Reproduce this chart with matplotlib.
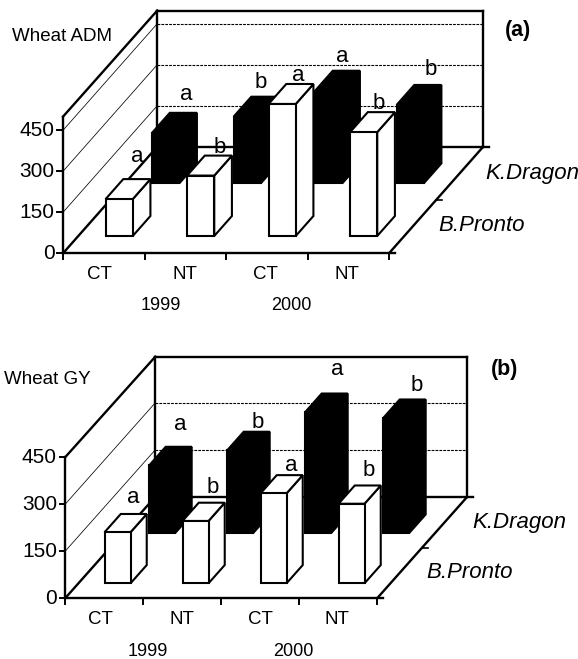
import matplotlib
matplotlib.use("Agg")
import matplotlib.pyplot as plt
from matplotlib.patches import Polygon

plt.rcParams['font.family'] = ['Liberation Sans', 'DejaVu Sans']

categories = ['CT', 'NT', 'CT', 'NT']
years = ['1999', '2000']
series_names = ['B.Pronto', 'K.Dragon']
y_ticks = [0, 150, 300, 450]

adm_pronto = [135, 221, 483, 380]
adm_dragon = [185, 244, 339, 287]
adm_pronto_letters = ['a', 'b', 'a', 'b']
adm_dragon_letters = ['a', 'b', 'a', 'b']

gy_pronto = [163, 199, 287, 254]
gy_dragon = [216, 264, 386, 367]
gy_pronto_letters = ['a', 'b', 'a', 'b']
gy_dragon_letters = ['a', 'b', 'a', 'b']

W, H = 578, 659
fig = plt.figure(figsize=(W / 100, H / 100), dpi=100)
fig.patch.set_facecolor('white')

THICK = 1.7
THIN = 0.55
BAR_LW = 1.5


def panel(px_top, px_bottom, x0, wc, y0, vs, dx, dy, ymax, ymaxfront, grid, side,
          pronto, dragon, p_let, d_let, p_off, d_off,
          d_front, d_depth, title, tag, tpos):
    ax = fig.add_axes([0, 1 - px_bottom / H, 1, (px_bottom - px_top) / H])
    ax.set_xlim(-x0 / wc, (W - x0) / wc)
    ax.set_ylim((y0 - px_bottom) / vs, (y0 - px_top) / vs)
    ax.axis('off')

    def P(c, d, v):
        return (c + d * dx, v + d * dy)

    def line(a, b, lw=THICK, ls='-', z=2):
        ax.plot([a[0], b[0]], [a[1], b[1]], color='black', lw=lw, ls=ls, zorder=z,
                solid_capstyle='projecting', dash_capstyle='butt')

    n = len(categories)
    # walls
    for v in grid:
        line(P(0, 1, v), P(n, 1, v), lw=0.8, ls=(0, (2.5, 1)), z=1)
    for v in side:
        line(P(0, 0, v), P(0, 1, v), lw=THIN, z=1)
    line(P(0, 0, 0), P(0, 0, ymaxfront))
    line(P(0, 0, ymaxfront), P(0, 1, ymax))
    line(P(0, 1, 0), P(0, 1, ymax))
    line(P(0, 1, ymax), P(n, 1, ymax))
    line(P(n, 1, 0), P(n, 1, ymax))
    # floor
    line(P(0, 0, 0), P(0, 1, 0))
    line(P(0, 1, 0), P(n + 0.07, 1, 0))
    line(P(n, 0, 0), P(n, 1, 0))
    line(P(0, 0, 0), P(n + 0.07, 0, 0))
    mid = P(n, 0.5, 0)
    line(mid, (mid[0] + 0.07, mid[1]), lw=1.2)
    # ticks
    for i in range(n + 1):
        line((i, 0), (i, -5.5 / vs), lw=1.4)
    for v in y_ticks:
        line((0, v), (-0.07, v), lw=1.4)
        ax.text(-0.105, v, str(v), ha='right', va='center', fontsize=15)

    def bar(i, v, d0, dd, fc, z, letter, off):
        c0, c1 = i + 0.335, i + 0.668
        d1 = d0 + dd
        front = [P(c0, d0, 0), P(c1, d0, 0), P(c1, d0, v), P(c0, d0, v)]
        right = [P(c1, d0, 0), P(c1, d1, 0), P(c1, d1, v), P(c1, d0, v)]
        top = [P(c0, d0, v), P(c1, d0, v), P(c1, d1, v), P(c0, d1, v)]
        for q in (right, top, front):
            ax.add_patch(Polygon(q, closed=True, facecolor=fc, edgecolor='black',
                                 lw=BAR_LW, joinstyle='miter', zorder=z))
        tx, ty = P((c0 + c1) / 2, d1, v)
        ax.annotate(letter, (tx, ty), xytext=off, textcoords='offset points',
                    ha='center', va='center', fontsize=16, zorder=20)

    for i in range(n):
        bar(i, dragon[i], d_front[1], d_depth, 'black', 5 + i, d_let[i], d_off[i])
    for i in range(n):
        bar(i, pronto[i], d_front[0], d_depth, 'white', 10 + i, p_let[i], p_off[i])

    # texts
    for x, s in zip(tpos['cat'], categories):
        ax.text(x, tpos['cat_y'], s, ha='center', va='center', fontsize=13.5)
    for x, s in zip(tpos['yr'], years):
        ax.text(x, tpos['yr_y'], s, ha='center', va='center', fontsize=13)
    ax.text(tpos['title'][0], tpos['title'][1], title, ha='left', va='center', fontsize=13.5)
    ax.text(tpos['tag'][0], tpos['tag'][1], tag, ha='center', va='center',
            fontsize=15.5, fontweight='bold')
    ax.text(tpos['drag'][0], tpos['drag'][1], series_names[1], ha='left', va='center',
            fontsize=16, style='italic')
    ax.text(tpos['pron'][0], tpos['pron'][1], series_names[0], ha='left', va='center',
            fontsize=16, style='italic')


panel(0, 330, 63, 81.5, 253.3, 0.2733, 1.156, 390, 498, 500,
      grid=[150, 300, 450], side=[150, 300, 450],
      pronto=adm_pronto, dragon=adm_dragon,
      p_let=adm_pronto_letters, d_let=adm_dragon_letters,
      p_off=[(0, 16), (1, 6), (-1, 6), (-2, 6)],
      d_off=[(2, 13), (-3, 10), (-3, 10), (2, 11)],
      d_front=(0.1625, 0.656), d_depth=0.1875,
      title='Wheat ADM', tag='(a)',
      tpos=dict(cat=[0.45, 1.5, 2.49, 3.49], cat_y=-76, yr=[1.2, 2.8], yr_y=-191,
                title=(-0.62, 795), tag=(5.58, 817), drag=(5.18, 293), pron=(4.61, 100)))

panel(330, 659, 65.1, 78, 598.3, 0.3133, 1.156, 324, 447, 450,
      grid=[150, 300], side=[150, 300],
      pronto=gy_pronto, dragon=gy_dragon,
      p_let=gy_pronto_letters, d_let=gy_dragon_letters,
      p_off=[(0, 12), (1, 11), (1, 7), (1, 11)],
      d_off=[(1, 16), (1, 7), (2, 17), (3, 10)],
      d_front=(0.1475, 0.646), d_depth=0.18,
      title='Wheat GY', tag='(b)',
      tpos=dict(cat=[0.455, 1.5, 2.5, 3.49], cat_y=-69, yr=[1.06, 2.92], yr_y=-170,
                title=(-0.777, 699), tag=(5.63, 731), drag=(5.22, 243), pron=(4.63, 83)))

fig.savefig('out.png', dpi=100)
